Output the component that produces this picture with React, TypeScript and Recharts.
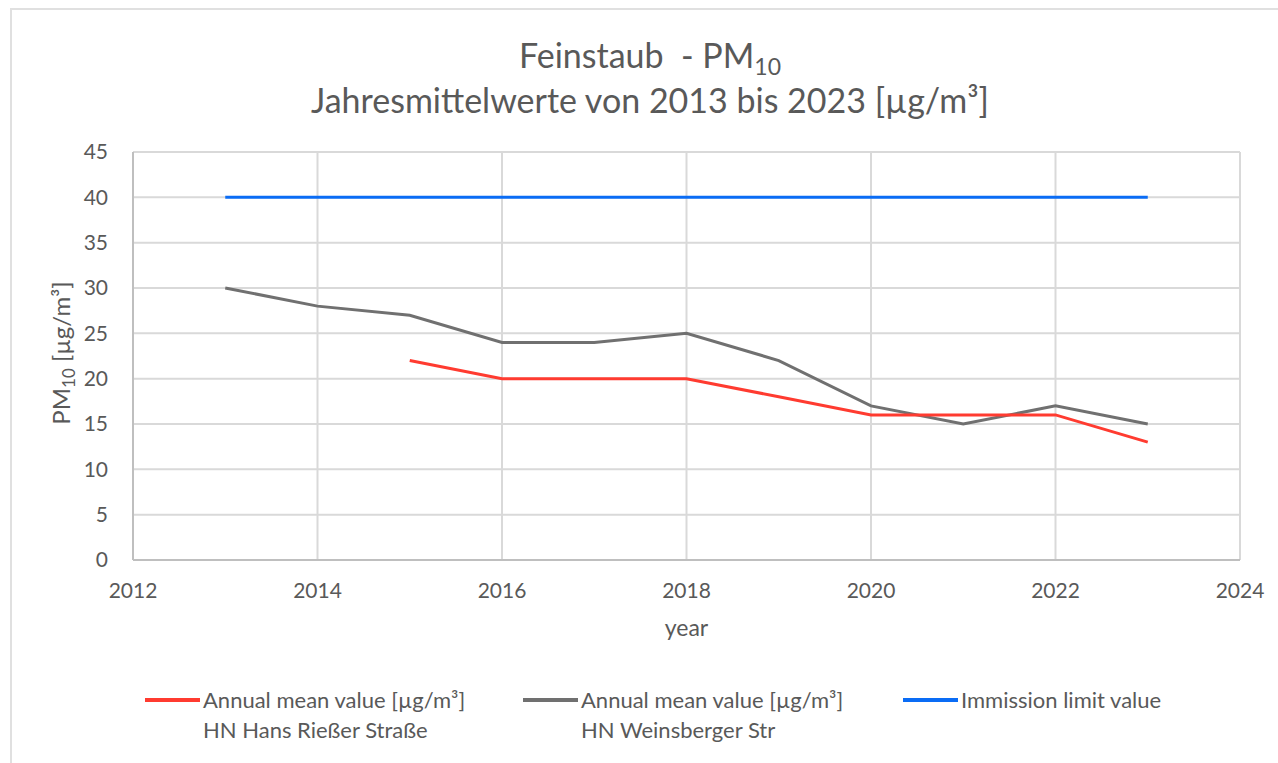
import React from "react";
import { LineChart, Line, XAxis, YAxis, CartesianGrid } from "recharts";

const years = [2013, 2014, 2015, 2016, 2017, 2018, 2019, 2020, 2021, 2022, 2023];
const hansRiesser: (number | null)[] = [null, null, 22, 20, 20, 20, 18, 16, 16, 16, 13];
const weinsberger = [30, 28, 27, 24, 24, 25, 22, 17, 15, 17, 15];
const limitValue = [40, 40, 40, 40, 40, 40, 40, 40, 40, 40, 40];
const xTicks = [2012, 2014, 2016, 2018, 2020, 2022, 2024];
const yTicks = [0, 5, 10, 15, 20, 25, 30, 35, 40, 45];

const data = years.map((y, i) => ({
  year: y,
  hans: hansRiesser[i],
  weins: weinsberger[i],
  limit: limitValue[i],
}));

const FONT = "Lato, 'Open Sans', sans-serif";
const TXT = "#595959";
const RED = "#ff3b30";
const GRAY = "#707070";
const BLUE = "#0a6cf5";

const YLabel = () => {
  const cx = 62;
  const cy = 353;
  return (
    <text
      x={cx}
      y={cy}
      transform={`rotate(-90 ${cx} ${cy})`}
      textAnchor="middle"
      fill={TXT}
      style={{ fontSize: 24, fontFamily: FONT }}
      dy={8}
    >
      PM
      <tspan style={{ fontSize: 17 }} dy={5}>10</tspan>
      <tspan dy={-5}> [µg/m³]</tspan>
    </text>
  );
};

const legendItems = [
  { color: RED, l1: "Annual mean value [µg/m³]", l2: "HN Hans Rießer Straße", x: 145 },
  { color: GRAY, l1: "Annual mean value [µg/m³]", l2: "HN Weinsberger Str", x: 523 },
  { color: BLUE, l1: "Immission limit value", l2: "", x: 903 },
];

export default function App() {
  return (
    <div
      style={{
        position: "fixed",
        left: 0,
        top: 0,
        width: 1278,
        height: 763,
        overflow: "hidden",
        background: "#fff",
        fontFamily: FONT,
      }}
    >
      <div
        style={{
          position: "absolute",
          left: 10,
          top: 8,
          width: 1300,
          height: 800,
          border: "2px solid #e0e0e0",
          boxSizing: "border-box",
        }}
      />
      <div
        style={{
          position: "absolute",
          left: 0,
          width: 1300,
          top: 32,
          textAlign: "center",
          color: TXT,
          fontSize: 34,
          lineHeight: "45px",
        }}
      >
        <div>
          Feinstaub&nbsp; - PM<sub style={{ fontSize: 23, verticalAlign: "-7px", lineHeight: 0 }}>10</sub>
        </div>
        <div>Jahresmittelwerte von 2013 bis 2023 [µg/m³]</div>
      </div>
      <div style={{ position: "absolute", left: 0, top: 0 }}>
        <LineChart
          width={1278}
          height={763}
          data={data}
          margin={{ top: 152, right: 38, bottom: 173, left: 83 }}
        >
          <CartesianGrid stroke="#d9d9d9" strokeWidth={2} />
          <XAxis
            dataKey="year"
            type="number"
            domain={[2012, 2024]}
            ticks={xTicks}
            height={30}
            axisLine={{ stroke: "#bfbfbf", strokeWidth: 2 }}
            tickLine={false}
            tick={{ fill: TXT, fontSize: 21, fontFamily: FONT }}
            tickMargin={17}
            label={{ value: "year", position: "insideBottom", offset: -46, fill: TXT, fontSize: 23, fontFamily: FONT }}
          />
          <YAxis
            type="number"
            domain={[0, 45]}
            ticks={yTicks}
            width={50}
            axisLine={{ stroke: "#bfbfbf", strokeWidth: 2 }}
            tickLine={false}
            tick={{ fill: TXT, fontSize: 21, fontFamily: FONT }}
            tickMargin={19}
            label={<YLabel />}
          />
          <Line dataKey="limit" stroke={BLUE} strokeWidth={3} dot={false} isAnimationActive={false} />
          <Line dataKey="weins" stroke={GRAY} strokeWidth={3} dot={false} isAnimationActive={false} />
          <Line dataKey="hans" stroke={RED} strokeWidth={3} dot={false} isAnimationActive={false} />
        </LineChart>
      </div>
      {legendItems.map((it) => (
        <div key={it.l1 + it.x} style={{ position: "absolute", left: it.x, top: 685, color: TXT, fontSize: 22 }}>
          <div style={{ position: "absolute", left: 0, top: 13, width: 55, height: 4, background: it.color }} />
          <div style={{ position: "absolute", left: 58, top: 0, whiteSpace: "nowrap", lineHeight: "30px" }}>
            <div>{it.l1}</div>
            <div>{it.l2}</div>
          </div>
        </div>
      ))}
    </div>
  );
}
